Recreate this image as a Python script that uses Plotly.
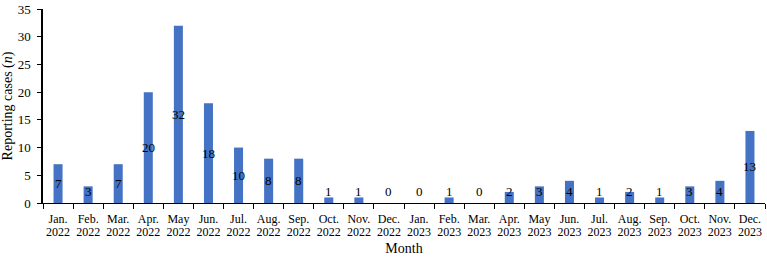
import plotly.graph_objects as go

months = ["Jan.", "Feb.", "Mar.", "Apr.", "May", "Jun.", "Jul.", "Aug.", "Sep.", "Oct.", "Nov.", "Dec.",
          "Jan.", "Feb.", "Mar.", "Apr.", "May", "Jun.", "Jul.", "Aug.", "Sep.", "Oct.", "Nov.", "Dec."]
years = ["2022"] * 12 + ["2023"] * 12
cases = [7, 3, 7, 20, 32, 18, 10, 8, 8, 1, 1, 0,
         0, 1, 0, 2, 3, 4, 1, 2, 1, 3, 4, 13]

categories = [f"{m} {y}" for m, y in zip(months, years)]

FONT = "Liberation Serif, Times New Roman, serif"
XRANGE = [-0.5, len(categories) - 0.5]

fig = go.Figure()
fig.add_trace(go.Bar(
    x=categories, y=cases,
    marker=dict(color="#4472C4", line=dict(width=0)),
    showlegend=False, hoverinfo="skip",
))
# invisible trace carrying the year row axis
fig.add_trace(go.Scatter(
    x=categories, y=cases, xaxis="x2", mode="markers",
    marker=dict(opacity=0), showlegend=False, hoverinfo="skip",
))

# data labels: centered in bar, but kept above the axis for small bars
for c, v in zip(categories, cases):
    fig.add_annotation(x=c, y=max(v / 2, 2), text=str(v), showarrow=False,
                       font=dict(family=FONT, size=13, color="black"),
                       xanchor="center", yanchor="middle")

fig.update_layout(
    width=767, height=260,
    margin=dict(l=43, r=2, t=7, b=57),
    plot_bgcolor="white", paper_bgcolor="white",
    bargap=0.7,
    font=dict(family=FONT, size=12, color="black"),
    xaxis=dict(
        type="category", categoryorder="array", categoryarray=categories,
        range=XRANGE, autorange=False,
        tickvals=categories, ticktext=months,
        showline=True, linecolor="black", linewidth=1,
        ticks="outside", tickson="boundaries", ticklen=5, tickcolor="black",
        ticklabelstandoff=5,
        tickfont=dict(family=FONT, size=12, color="black"),
        showgrid=False, tickangle=0,
    ),
    xaxis2=dict(
        type="category", categoryorder="array", categoryarray=categories,
        range=XRANGE, autorange=False,
        overlaying="x", side="bottom", anchor="y",
        tickvals=categories, ticktext=years,
        showline=False, ticks="", ticklabelstandoff=20,
        tickfont=dict(family=FONT, size=12, color="black"),
        title=dict(text="Month", font=dict(family=FONT, size=14, color="black"), standoff=5),
        showgrid=False, tickangle=0,
    ),
    yaxis=dict(
        range=[0, 35], dtick=5,
        showline=True, linecolor="black", linewidth=1.5,
        ticks="outside", ticklen=4, tickcolor="black",
        ticklabelstandoff=4, ticklabeloverflow="allow",
        tickfont=dict(family=FONT, size=13, color="black"),
        title=dict(text="Reporting cases (<i>n</i>)", font=dict(family=FONT, size=14, color="black"), standoff=4),
        showgrid=False, zeroline=False,
    ),
)

fig.write_html("out.html")
